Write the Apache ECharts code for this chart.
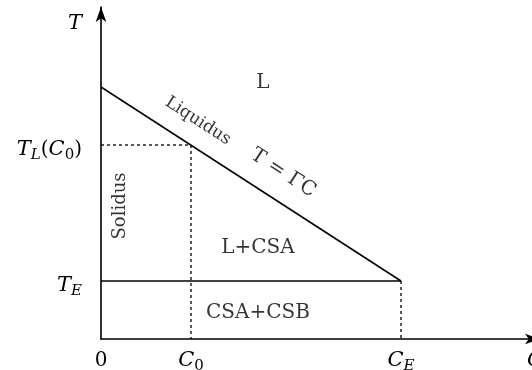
<!DOCTYPE html>
<html>
<head>
<meta charset="utf-8">
<script src="https://cdn.jsdelivr.net/npm/echarts@6/dist/echarts.min.js"></script>
<style>html,body{margin:0;padding:0;background:#fff;overflow:hidden;}#c{width:532px;height:370px;}</style>
</head>
<body>
<div id="c"></div>
<script>
// ---- data ----
const C0 = 3, CE = 10, CMAX = 14.633, CLAB = 14.467;
const T0 = 25.2, TL0 = 19.4, TE = 5.8, TMAX = 33.2, TTOP = 32;
const liquidusC = [0, CE];
const liquidusT = [T0, TE];
const eutecticC = [0, CE];
const eutecticT = [TE, TE];
const dashTLC = [0, C0];
const dashTLT = [TL0, TL0];
const dashC0C = [C0, C0];
const dashC0T = [TL0, 0];
const dashCEC = [CE, CE];
const dashCET = [TE, 0];
const xTickValues = [0, C0, CE, CLAB];
const xTickLabels = ['{n|0}', '{i|C}{s|0}', '{i|C}{si|E}', '{i|C}'];
const yTickValues = [TE, TL0, TTOP];
const yTickLabels = ['{i|T}{si|E}', '{i|T}{si|L}{n|(}{i|C}{s|0}{n|)}', '{i|T}'];
const noteTexts = ['{n|L}', '{q|Liquidus}', '{n|T}{g|=}{n|ΓC}', '{o|Solidus}', '{n|L+CSA}', '{n|CSA+CSB}'];
const noteC = [5.4, 3.23, 6.07, 0.63, 5.23, 5.23];
const noteT = [25.6, 21.8, 16.6, 13.3, 9.1, 2.6];
const noteRotate = [0, -33, -33, 90, 0, 0];

const FONT = 'DejaVu Serif';
const base = {fontFamily: FONT, color: '#000'};
const rich = {
  n: Object.assign({fontSize: 20}, base),
  q: Object.assign({fontSize: 17}, base),
  o: Object.assign({fontSize: 18}, base),
  g: Object.assign({fontSize: 20, padding: [0, 7, 0, 7]}, base),
  i: Object.assign({fontSize: 21, fontStyle: 'italic'}, base),
  s: Object.assign({fontSize: 15, padding: [11, 0, 0, 0]}, base),
  si: Object.assign({fontSize: 15, fontStyle: 'italic', padding: [11, 0, 0, 0]}, base)
};
function zip(a, b) { return a.map((v, k) => [v, b[k]]); }
function lookup(vals, labels, v) {
  for (let k = 0; k < vals.length; k++) if (Math.abs(vals[k] - v) < 1e-6) return labels[k];
  return '';
}
const solid = {color: '#000', width: 1.5, type: 'solid'};
const dashed = {color: '#000', width: 1.3, type: [3, 3]};
function lineSeries(c, t, style) {
  return {type: 'line', data: zip(c, t), symbol: 'none', lineStyle: style, silent: true, z: 3};
}
const chart = echarts.init(document.getElementById('c'), null, {renderer: 'canvas'});
chart.setOption({
  animation: false,
  backgroundColor: '#fff',
  grid: {left: 101, right: -8, top: 7, bottom: 31, containLabel: false, outerBoundsMode: 'none'},
  xAxis: {
    type: 'value', min: 0, max: CMAX,
    axisLine: {show: true, lineStyle: {color: '#000', width: 1.6}, symbol: ['none', 'arrow'], symbolSize: [8, 15]},
    axisTick: {show: false}, splitLine: {show: false},
    axisLabel: {customValues: xTickValues, margin: 9, lineHeight: 26, showMaxLabel: true, showMinLabel: true,
      formatter: v => lookup(xTickValues, xTickLabels, v), rich: rich}
  },
  yAxis: {
    type: 'value', min: 0, max: TMAX,
    axisLine: {show: true, lineStyle: {color: '#000', width: 1.6}, symbol: ['none', 'arrow'], symbolSize: [8, 15]},
    axisTick: {show: false}, splitLine: {show: false},
    axisLabel: {customValues: yTickValues, margin: 19, lineHeight: 26, showMaxLabel: true, padding: [10, 0, 0, 0],
      formatter: v => lookup(yTickValues, yTickLabels, v), rich: rich}
  },
  series: [
    lineSeries(liquidusC, liquidusT, solid),
    lineSeries(eutecticC, eutecticT, solid),
    lineSeries(dashTLC, dashTLT, dashed),
    lineSeries(dashC0C, dashC0T, dashed),
    lineSeries(dashCEC, dashCET, dashed),
    {
      type: 'scatter', symbolSize: 0, silent: true, z: 5,
      data: noteTexts.map((t, k) => ({
        value: [noteC[k], noteT[k]],
        label: {show: true, position: 'inside', formatter: t, rotate: noteRotate[k], rich: rich}
      }))
    }
  ]
});
</script>
</body>
</html>
